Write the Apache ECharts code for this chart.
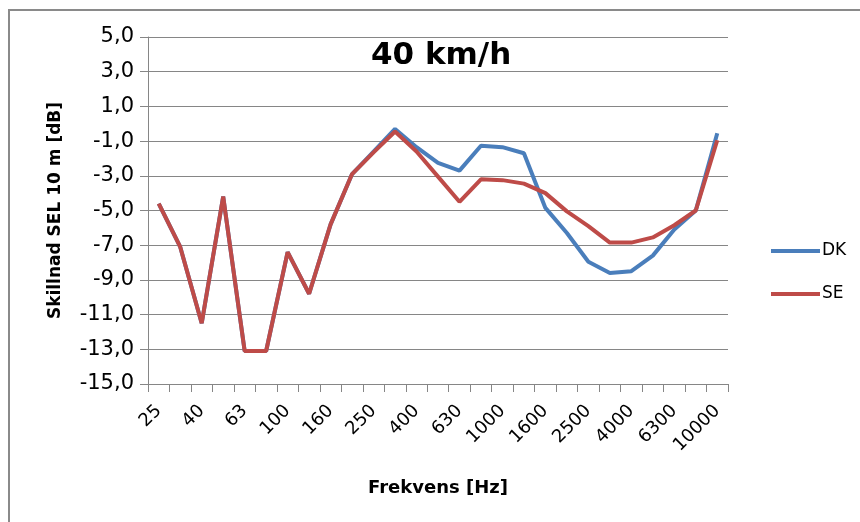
<!DOCTYPE html>
<html>
<head>
<meta charset="utf-8">
<script src="https://cdn.jsdelivr.net/npm/echarts@6/dist/echarts.min.js"></script>
<style>html,body{margin:0;padding:0;background:#fff;}#chart{width:860px;height:522px;}</style>
</head>
<body>
<div id="chart"></div>
<script>
var categories = ['25','31.5','40','50','63','80','100','125','160','200','250','315','400','500','630','800','1000','1250','1600','2000','2500','3150','4000','5000','6300','8000','10000'];
var dkValues = [-4.6, -7.1, -11.5, -4.2, -13.1, -13.1, -7.4, -9.8, -5.8, -2.9, -1.6, -0.3, -1.35, -2.25, -2.7, -1.27, -1.35, -1.7, -4.85, -6.3, -7.95, -8.6, -8.5, -7.6, -6.1, -5.0, -0.55];
var seValues = [-4.6, -7.1, -11.5, -4.2, -13.1, -13.1, -7.4, -9.8, -5.8, -2.9, -1.65, -0.45, -1.6, -3.05, -4.5, -3.2, -3.25, -3.45, -4.0, -5.05, -5.9, -6.85, -6.85, -6.55, -5.85, -5.0, -0.95];
var yMin = -15, yMax = 5, yStep = 2;

var chart = echarts.init(document.getElementById('chart'), null, {renderer: 'canvas'});
var font = 'DejaVu Sans';
chart.setOption({
  animation: false,
  backgroundColor: '#fff',
  title: {
    text: '40 km/h',
    left: 371,
    top: 40,
    padding: 0,
    textStyle: {fontFamily: font, fontWeight: 'bold', fontSize: 31, color: '#000'}
  },
  graphic: [{
    type: 'rect',
    shape: {x: 9, y: 10, width: 900, height: 600},
    style: {fill: 'none', stroke: '#8a8a8a', lineWidth: 2},
    silent: true
  }],
  legend: {
    orient: 'vertical',
    left: 766,
    top: 236,
    icon: 'rect',
    itemWidth: 49,
    itemHeight: 4,
    itemGap: 23,
    textStyle: {fontFamily: font, fontSize: 17, color: '#000', padding: [0, 0, 0, -3], lineHeight: 20},
    data: ['DK', 'SE']
  },
  grid: {left: 148, right: 132, top: 37, bottom: 138, containLabel: false},
  xAxis: {
    type: 'category',
    data: categories,
    boundaryGap: true,
    name: 'Frekvens [Hz]',
    nameLocation: 'middle',
    nameGap: 95,
    nameTextStyle: {fontFamily: font, fontWeight: 'bold', fontSize: 18, color: '#000'},
    axisLine: {onZero: false, lineStyle: {color: '#868686', width: 1}},
    axisTick: {show: true, alignWithLabel: false, interval: 0, length: 8, lineStyle: {color: '#868686'}},
    axisLabel: {interval: 1, rotate: 45, margin: 24, fontFamily: font, fontSize: 18, color: '#000'},
    splitLine: {show: false}
  },
  yAxis: {
    type: 'value',
    min: yMin,
    max: yMax,
    interval: yStep,
    name: 'Skillnad SEL 10 m [dB]',
    nameLocation: 'middle',
    nameRotate: 90,
    nameGap: 84,
    nameTextStyle: {fontFamily: font, fontWeight: 'bold', fontSize: 17, color: '#000'},
    axisLine: {show: true, lineStyle: {color: '#868686', width: 1}},
    axisTick: {show: true, length: 8, lineStyle: {color: '#868686'}},
    axisLabel: {
      margin: 14,
      fontFamily: font,
      fontSize: 21,
      color: '#000',
      formatter: function (v) { return v.toFixed(1).replace('.', ','); }
    },
    splitLine: {show: true, lineStyle: {color: '#868686', width: 1}}
  },
  series: [
    {name: 'DK', type: 'line', data: dkValues, symbol: 'none', lineStyle: {width: 4, color: '#4A7EBB'}, itemStyle: {color: '#4A7EBB'}},
    {name: 'SE', type: 'line', data: seValues, symbol: 'none', lineStyle: {width: 4, color: '#BE4B48'}, itemStyle: {color: '#BE4B48'}}
  ]
});
</script>
</body>
</html>
